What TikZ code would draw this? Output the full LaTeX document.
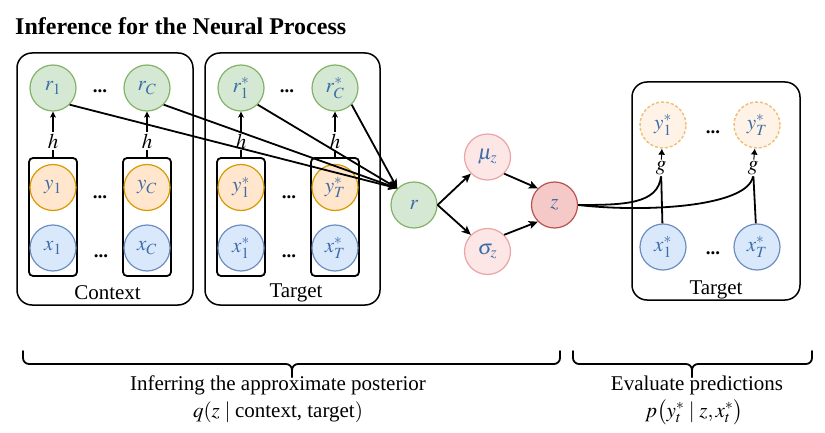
\documentclass[tikz,border=0pt]{standalone}
\usepackage{amsmath}
\usepackage{mathptmx}
\usepackage[no-math]{fontspec}
\setmainfont{Liberation Serif}
\usetikzlibrary{arrows.meta,calc}
\definecolor{gfill}{HTML}{D5E8D4}\definecolor{gdraw}{HTML}{82B366}
\definecolor{ofill}{HTML}{FFE6CC}\definecolor{odraw}{HTML}{D79B00}
\definecolor{bfill}{HTML}{DAE8FC}\definecolor{bdraw}{HTML}{6C8EBF}
\definecolor{pfill}{HTML}{FCE6E6}\definecolor{pdraw}{HTML}{EAA5A5}
\definecolor{zfill}{HTML}{F6C9C9}\definecolor{zdraw}{HTML}{B85450}
\definecolor{efill}{HTML}{FEF3E6}\definecolor{edraw}{HTML}{F0BE74}
\definecolor{lbl}{HTML}{3D6DA8}
\tikzset{
  cnode/.style={circle, minimum size=46pt, inner sep=0pt, line width=1.2pt, text=lbl, font=\fontsize{21}{23}\selectfont},
  gc/.style={cnode, fill=gfill, draw=gdraw},
  oc/.style={cnode, fill=ofill, draw=odraw},
  bc/.style={cnode, fill=bfill, draw=bdraw},
  pc/.style={cnode, fill=pfill, draw=pdraw},
  zc/.style={cnode, fill=zfill, draw=zdraw},
  ec/.style={cnode, fill=efill, draw=edraw, line width=1.4pt, dash pattern=on 3pt off 2pt},
  obox/.style={draw, rounded corners=15pt, line width=1.5pt},
  ibox/.style={draw, rounded corners=4pt, line width=1.8pt, minimum width=48pt, minimum height=118pt, inner sep=0pt},
  txt/.style={font=\fontsize{21}{23}\selectfont, inner sep=0pt},
  sym/.style={font=\fontsize{21}{23}\selectfont, inner sep=1.5pt},
  dotlab/.style={font=\fontsize{19}{22}\selectfont\bfseries, inner sep=0pt},
  plain/.style={line width=1.8pt},
  arr/.style={line width=1.8pt, -{Stealth[length=9pt,width=8pt,inset=2pt]}},
  harr/.style={line width=1.8pt, -{Stealth[length=6pt,width=6pt,inset=1.5pt]}},
  garr/.style={line width=1pt, -{Latex[length=6pt,width=7pt]}},
  bracepath/.style={line width=1.8pt, line cap=round, rounded corners=6pt}
}
\begin{document}
\begin{tikzpicture}[x=1pt,y=-1pt]
\useasboundingbox (0,0) rectangle (825,433);
\node[anchor=base west, inner sep=0pt, font=\fontsize{24}{28}\selectfont\bfseries] (title) at (15,35) {Inference for the Neural Process};

% outer boxes
\node[obox, minimum width=176pt, minimum height=252pt] (ctxbox) at (105,179) {};
\node[obox, minimum width=175pt, minimum height=252pt] (tgtbox) at (292.5,179) {};
\node[obox, minimum width=168pt, minimum height=218pt] (evalbox) at (716,191) {};

% inner rects
\node[ibox] (c1) at (53,217) {};
\node[ibox] (cC) at (147,217) {};
\node[ibox] (t1) at (241,217) {};
\node[ibox] (tT) at (335,217) {};

% r row
\node[gc] (r1) at (53,88) {$r_1$};
\node[gc] (rC) at (147,88) {$r_C$};
\node[gc] (rs1) at (241,88) {$r^*_1$};
\node[gc] (rsC) at (335,88) {$r^*_C$};
% y row
\node[oc] (y1) at (53,187.5) {$y_1$};
\node[oc] (yC) at (147,187.5) {$y_C$};
\node[oc] (ys1) at (241,187.5) {$y^*_1$};
\node[oc] (ysT) at (335,187.5) {$y^*_T$};
% x row
\node[bc] (x1) at (53,248) {$x_1$};
\node[bc] (xC) at (147,248) {$x_C$};
\node[bc] (xs1) at (241,248) {$x^*_1$};
\node[bc] (xsT) at (335,248) {$x^*_T$};

% dots
\node[dotlab] (dc1) at (100,91) {...};
\node[dotlab] (dc2) at (100,197) {...};
\node[dotlab] (dc3) at (101,256) {...};
\node[dotlab] (dt1) at (287,91) {...};
\node[dotlab] (dt2) at (289,197) {...};
\node[dotlab] (dt3) at (289,256) {...};

% h labels
\node[sym] (h1) at (53,141) {$h$};
\node[sym] (hC) at (147,141) {$h$};
\node[sym] (hs1) at (241,141) {$h$};
\node[sym] (hsC) at (335,141) {$h$};

\node[txt] (ctxlab) at (107.5,293) {Context};
\node[txt] (tgtlab) at (296,293) {Target};

% middle
\node[gc] (r) at (414,205) {$r$};
\node[pc] (mu) at (487.5,157) {$\mu_z$};
\node[pc] (sig) at (487.5,251.5) {$\sigma_z$};
\node[zc] (z) at (554.5,205) {$z$};

% right
\node[ec] (ey1) at (663,125) {$y^*_1$};
\node[ec] (eyT) at (757,125) {$y^*_T$};
\node[bc] (ex1) at (663,247) {$x^*_1$};
\node[bc] (exT) at (757,247) {$x^*_T$};
\node[dotlab] (de1) at (713,132) {...};
\node[dotlab] (de2) at (713,253) {...};
\node[sym] (g1) at (661,168) {$g$};
\node[sym] (gT) at (753,168) {$g$};
\node[txt] (evallab) at (716,290) {Target};

% h connections
\foreach \c/\h/\rr in {c1/h1/r1, cC/hC/rC, t1/hs1/rs1, tT/hsC/rsC}{
  \draw[plain] (\c) -- (\h);
  \draw[harr] (\h) -- (\rr);
}

% converging arrows
\draw[arr] (r1.south east) -- (r.north west);
\draw[arr] (rC.south east) -- (r.north west);
\draw[arr] (rs1.south east) -- (r.north west);
\draw[arr] (rsC.south east) -- (r.north west);

\draw[arr] (r.east) -- (mu.south west);
\draw[arr] (r.east) -- (sig.north west);
\draw[arr] (mu.south east) -- (z.north west);
\draw[arr] (sig.north east) -- (z.south west);

% z to g
\draw[plain] (z.east) .. controls (625,205) and (658,204) .. (g1.south);
\draw[plain] (z.east) .. controls (650,213) and (748,206) .. (gT.south);
\draw[plain] (ex1) -- (g1);
\draw[plain] (exT) -- (gT);
\draw[garr] (g1) -- (ey1);
\draw[garr] (gT) -- (eyT);

% braces
\coordinate (bl1) at (23,351);
\coordinate (bl2) at (560,351);
\coordinate (blmid) at (292,364);
\coordinate (bltip) at (292,377);
\coordinate (br1) at (573,351);
\coordinate (br2) at (812,351);
\coordinate (brmid) at (692,364);
\coordinate (brtip) at (692,377);
\draw[bracepath] (bl1) -- (bl1 |- blmid) -- (blmid) -- (bltip);
\draw[bracepath] (bl2) -- (bl2 |- blmid) -- (blmid) -- (bltip);
\draw[bracepath] (br1) -- (br1 |- brmid) -- (brmid) -- (brtip);
\draw[bracepath] (br2) -- (br2 |- brmid) -- (brmid) -- (brtip);

\node[txt] (inftext) at (278,385) {Inferring the approximate posterior};
\node[txt] (qtext) at (278,412) {$q(z \mid \text{context, target})$};
\node[txt] (evtext) at (697,385) {Evaluate predictions};
\node[txt] (ptext) at (694,412) {$p\bigl(y^*_t \mid z, x^*_t\bigr)$};
\end{tikzpicture}
\end{document}
